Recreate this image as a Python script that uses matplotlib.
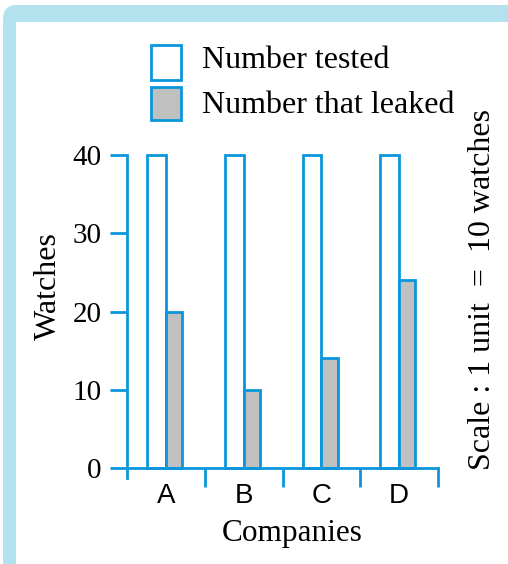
import matplotlib
matplotlib.use("Agg")
import matplotlib.pyplot as plt
from matplotlib.patches import Rectangle, FancyBboxPatch
from matplotlib.transforms import IdentityTransform
import numpy as np

# ---- data ----
companies = ["A", "B", "C", "D"]
number_tested = [40, 40, 40, 40]
number_leaked = [20, 10, 14, 24]
y_ticks = [0, 10, 20, 30, 40]
legend_labels = ["Number tested", "Number that leaked"]
x_label = "Companies"
y_label = "Watches"
scale_note = "Scale : 1 unit  =  10 watches"

BLUE = "#0a96dc"
GREY = "#c0c0c0"
FRAME = "#b3e2ee"
SERIF = "Liberation Serif"
SANS = "Liberation Sans"

W, H = 508, 564
fig = plt.figure(figsize=(W / 100, H / 100), dpi=100)
fig.patch.set_facecolor("white")

# ---- light blue frame (top & left, rounded corner) ----
outer = FancyBboxPatch((3, -100), 700, H - 5 + 100, boxstyle="round,pad=0,rounding_size=14",
                       transform=IdentityTransform(), facecolor=FRAME, edgecolor="none", zorder=-3)
inner = Rectangle((16, -100), 700, H - 22 + 100, transform=IdentityTransform(),
                  facecolor="white", edgecolor="none", zorder=-2)
fig.add_artist(outer)
fig.add_artist(inner)

# ---- axes ----
ax_l, ax_r, ax_t, ax_b = 127, 438, 155, 468
ax = fig.add_axes([ax_l / W, (H - ax_b) / H, (ax_r - ax_l) / W, (ax_b - ax_t) / H])
ax.set_facecolor("none")
ax.set_zorder(1)
ax.set_xlim(-0.5, 3.5)
ax.set_ylim(0, 40)

x = np.arange(len(companies))
ax.bar(x - 0.12, number_tested, width=0.24, facecolor="white", edgecolor=BLUE,
       linewidth=2, clip_on=False, zorder=2)
ax.bar(x + 0.105, number_leaked, width=0.21, facecolor=GREY, edgecolor=BLUE,
       linewidth=2, clip_on=False, zorder=2)

for s in ["top", "right"]:
    ax.spines[s].set_visible(False)
for s in ["left", "bottom"]:
    ax.spines[s].set_color(BLUE)
    ax.spines[s].set_linewidth(2)
ax.spines["left"].set_bounds(-10 / 7.825, 40)

ax.set_yticks(y_ticks)
ax.set_yticklabels([str(v) for v in y_ticks], fontfamily=SERIF, fontsize=21)
ax.tick_params(axis="y", direction="out", length=12.5, width=2, color=BLUE, pad=6)

ax.set_xticks([0.5, 1.5, 2.5, 3.5])
ax.set_xticklabels([])
ax.tick_params(axis="x", which="major", direction="out", length=14, width=2, color=BLUE)
ax.set_xticks(x, minor=True)
ax.set_xticklabels(companies, minor=True, fontfamily=SANS, fontsize=20)
ax.tick_params(axis="x", which="minor", length=0, pad=11)

ax.set_xlabel(x_label, fontfamily=SERIF, fontsize=22.5, va="center")
ax.xaxis.set_label_coords((292 - ax_l) / (ax_r - ax_l), -(533 - ax_b) / (ax_b - ax_t))
ax.set_ylabel(y_label, fontfamily=SERIF, fontsize=23, va="center")
ax.yaxis.set_label_coords((48 - ax_l) / (ax_r - ax_l), (ax_b - 286) / (ax_b - ax_t))

# ---- legend (manual layout) ----
fig.add_artist(Rectangle((151, H - 80), 30, 35, transform=IdentityTransform(),
                         facecolor="white", edgecolor=BLUE, linewidth=2))
fig.add_artist(Rectangle((151, H - 120), 30, 33, transform=IdentityTransform(),
                         facecolor=GREY, edgecolor=BLUE, linewidth=2))
fig.text(202 / W, (H - 68) / H, legend_labels[0], fontfamily=SERIF, fontsize=23,
         ha="left", va="baseline")
fig.text(202 / W, (H - 113) / H, legend_labels[1], fontfamily=SERIF, fontsize=23,
         ha="left", va="baseline")

# ---- scale note ----
fig.text(483 / W, (H - 289) / H, scale_note, fontfamily=SERIF, fontsize=23,
         rotation=90, ha="center", va="center")

fig.savefig("out.png", dpi=100)
